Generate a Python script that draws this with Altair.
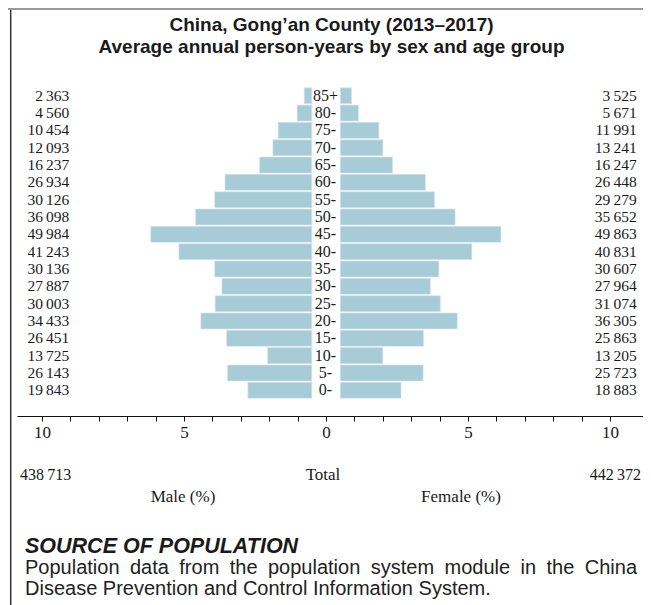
import altair as alt
import pandas as pd

# ---- data ----
ages = ["85+", "80-", "75-", "70-", "65-", "60-", "55-", "50-", "45-", "40-",
        "35-", "30-", "25-", "20-", "15-", "10-", "5-", "0-"]
male = [2363, 4560, 10454, 12093, 16237, 26934, 30126, 36098, 49984, 41243,
        30136, 27887, 30003, 34433, 26451, 13725, 26143, 19843]
female = [3525, 5671, 11991, 13241, 16247, 26448, 29279, 35652, 49863, 40831,
          30607, 27964, 31074, 36305, 25863, 13205, 25723, 18883]
male_total = 438713
female_total = 442372
tick_values = list(range(-10, 11))

title_lines = ["China, Gong\u2019an County (2013\u20132017)",
               "Average annual person-years by sex and age group"]
source_head = "SOURCE OF POPULATION"
source_lines = ["Population data from the population system module in the China",
                "Disease Prevention and Control Information System."]


def fmt(v):
    return f"{v:,}".replace(",", "\u2009")


grand = male_total + female_total
GAP = 0.5
df = pd.DataFrame({"age": ages, "male": male, "female": female})
df["m_pct"] = df["male"] / grand * 100
df["f_pct"] = df["female"] / grand * 100
df["m_start"] = -GAP
df["m_end"] = -GAP - df["m_pct"]
df["f_start"] = GAP
df["f_end"] = GAP + df["f_pct"]
df["m_lab"] = [fmt(v) for v in male]
df["f_lab"] = [fmt(v) for v in female]

SERIF = "Liberation Serif"
SANS = "Liberation Sans"
BAR = "#a8cbd8"
TXT = "#1a1a1a"

W = 626
xscale = alt.Scale(domain=[-10.88, 11.16], nice=False, zero=False)
yscale = alt.Scale(domain=ages, range=[7.7, 318.3], paddingInner=0.075, paddingOuter=0)

base = alt.Chart(df)

xaxis = alt.Axis(values=tick_values, labelExpr="abs(datum.value) % 5 == 0 ? '' + abs(datum.value) : ''",
                 title=None, grid=False, domainColor="#111", domainWidth=1.2,
                 tickColor="#111", tickSize=5, tickWidth=1, labelFont=SERIF, labelFontSize=17,
                 labelColor=TXT, labelPadding=3, labelFlush=False, labelOverlap=False)


def Y():
    return alt.Y("age:N", scale=yscale, axis=None, sort=ages)


male_bars = base.mark_bar(color=BAR, stroke="#dceaf0", strokeWidth=0.6).encode(
    x=alt.X("m_start:Q", scale=xscale, axis=xaxis),
    x2="m_end:Q",
    y=Y(),
)
female_bars = base.mark_bar(color=BAR, stroke="#dceaf0", strokeWidth=0.6).encode(
    x=alt.X("f_start:Q", scale=xscale, axis=xaxis),
    x2="f_end:Q",
    y=Y(),
)
age_text = base.mark_text(font=SERIF, fontSize=16, align="center", baseline="middle", color=TXT).encode(
    x=alt.value(308.5), y=Y(), text="age:N")
m_text = base.mark_text(font=SERIF, fontSize=15.5, align="right", baseline="middle", color=TXT).encode(
    x=alt.value(52.3), y=Y(), text="m_lab:N")
f_text = base.mark_text(font=SERIF, fontSize=15.5, align="right", baseline="middle", color=TXT).encode(
    x=alt.value(619.7), y=Y(), text="f_lab:N")


def note(text, x, y, align="left", font=SERIF, size=14, weight="normal", style="normal", color=TXT):
    return alt.Chart(alt.Data(values=[{}])).mark_text(
        font=font, fontSize=size, fontWeight=weight, fontStyle=style, align=align,
        baseline="alphabetic", color=color).encode(
        x=alt.value(x), y=alt.value(y), text=alt.value(text))


# Arial / Liberation Sans advance widths (per 1000 em) for justified source text
ARIAL = {" ": 278, "P": 667, "o": 556, "p": 556, "u": 556, "l": 222, "a": 556, "t": 278,
         "i": 222, "n": 556, "d": 556, "f": 278, "r": 333, "m": 833, "h": 556, "s": 500,
         "y": 500, "e": 556, "C": 722}
BODY = 20
LINE_W = 612
words = source_lines[0].split()
wwidths = [sum(ARIAL.get(c, 556) for c in w) / 1000 * BODY for w in words]
space = (LINE_W - sum(wwidths)) / (len(words) - 1)
word_notes = []
cx = 8
for w, ww in zip(words, wwidths):
    word_notes.append(note(w, cx, 494, font=SANS, size=BODY, color="#222"))
    cx += ww + space

notes = [
    note(title_lines[0], 314.5, -49, align="center", font=SANS, size=19, weight="bold"),
    note(title_lines[1], 314.5, -27, align="center", font=SANS, size=19, weight="bold"),
    note(fmt(male_total), 3, 400, font=SERIF, size=16),
    note("Total", 306, 400, align="center", font=SERIF, size=17),
    note(fmt(female_total), 624, 400, align="right", font=SERIF, size=16),
    note("Male (%)", 166, 422, align="center", font=SERIF, size=17),
    note("Female (%)", 444, 422, align="center", font=SERIF, size=17),
    note(source_head, 8, 473, font=SANS, size=21.5, weight="bold", style="italic"),
    note(source_lines[1], 8, 515, font=SANS, size=BODY, color="#222"),
] + word_notes

frame_left = alt.Chart(alt.Data(values=[{}])).mark_rule(color="#333", strokeWidth=1.5).encode(
    x=alt.value(-6.3), y=alt.value(-72), y2=alt.value(525))
frame_top = alt.Chart(alt.Data(values=[{}])).mark_rule(color="#999", strokeWidth=2).encode(
    x=alt.value(-9), x2=alt.value(W), y=alt.value(-71))

chart = alt.layer(male_bars, female_bars, age_text, m_text, f_text, frame_left, frame_top, *notes).properties(
    width=W, height=336,
    background="white",
    autosize=alt.AutoSizeParams(type="none"),
    padding={"left": 9, "top": 72, "right": 0, "bottom": 189},
).configure_view(strokeWidth=0, stroke="transparent")

chart.save("out.html", embed_options={"renderer": "svg", "actions": False})
